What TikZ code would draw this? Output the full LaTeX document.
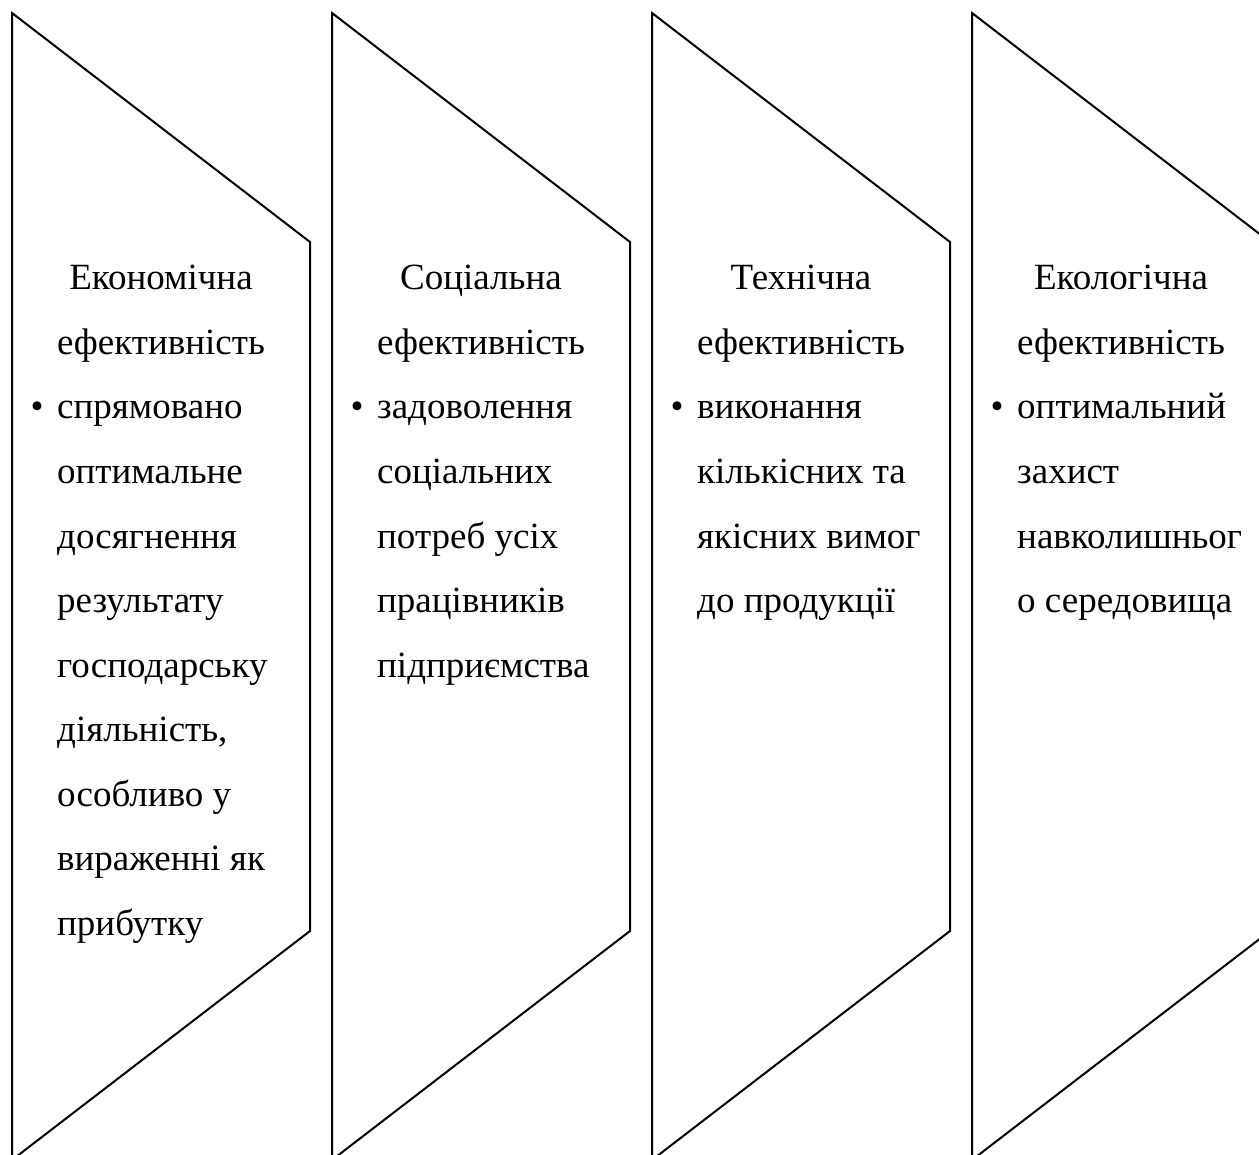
\documentclass[tikz,border=0pt]{standalone}
\usepackage{fontspec}
\setmainfont{Liberation Serif}
\newcommand\bigfont{\fontsize{37}{44}\selectfont}
\tikzset{
  chev/.style={draw=black, line width=2pt, line join=miter},
  ttl/.style={anchor=base, inner sep=0pt, font=\bigfont},
  itm/.style={anchor=base west, inner sep=0pt, font=\bigfont},
  bul/.style={anchor=base, inner sep=0pt, font=\bigfont}
}
\newcommand\chevcol[5]{%
  \draw[chev] (#1,13) -- (#1+298,242) -- (#1+298,931) -- (#1,1160) -- cycle;
  \node[ttl] (#2-t1) at (#1+149,290) {#3};
  \node[ttl] (#2-t2) at (#1+149,354.5) {#4};
  \node[bul] (#2-b) at (#1+25,419) {•};
  \foreach \t [count=\i from 0] in {#5} {\node[itm] (#2-\i) at (#1+45,419+64.5*\i) {\t};}
}
\begin{document}
\begin{tikzpicture}[x=1pt,y=-1pt]
\useasboundingbox (0,0) rectangle (1259,1155);
\clip (0,0) rectangle (1259,1155);
\chevcol{12}{a}{Економічна}{ефективність}{спрямовано,оптимальне,досягнення,результату,господарську,{діяльність,},особливо у,вираженні як,прибутку}
\chevcol{332}{b}{Соціальна}{ефективність}{задоволення,соціальних,потреб усіх,працівників,підприємства}
\chevcol{652}{c}{Технічна}{ефективність}{виконання,кількісних та,якісних вимог,до продукції}
\chevcol{972}{d}{Екологічна}{ефективність}{оптимальний,захист,навколишньог,о середовища}
\end{tikzpicture}
\end{document}
